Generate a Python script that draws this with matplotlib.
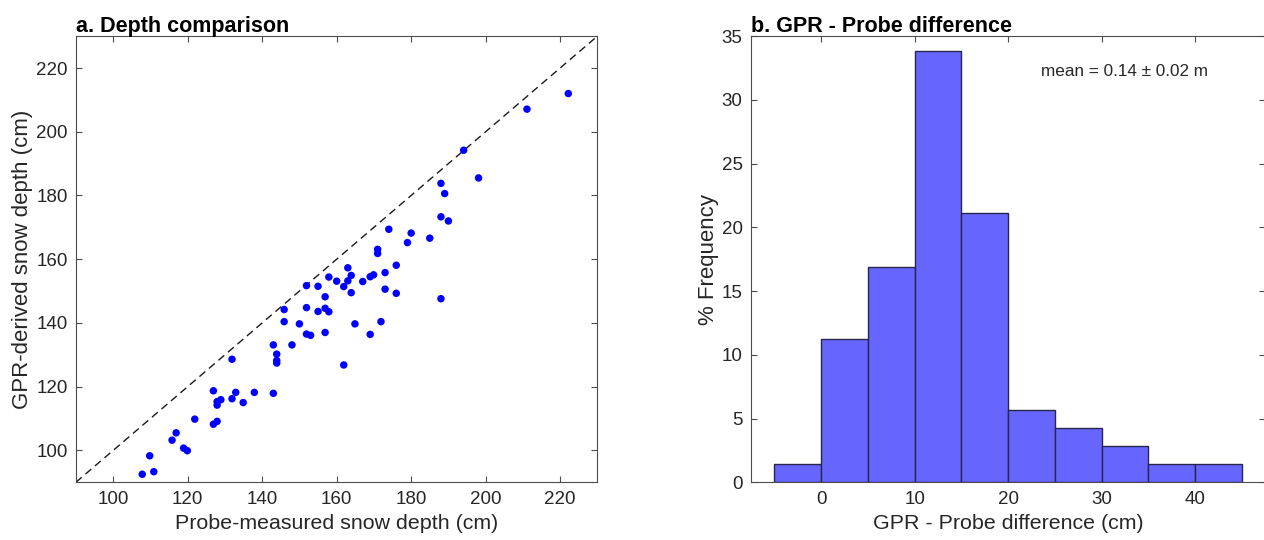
import matplotlib
matplotlib.use("Agg")
import matplotlib.pyplot as plt

plt.rcParams['font.family'] = ['Liberation Sans', 'DejaVu Sans']

# Paired snow depth observations (cm)
probe_depth = [107.8, 109.8, 110.9, 115.8, 116.9, 118.9, 119.9, 121.9, 126.9, 126.9,
               127.9, 127.9, 127.9, 128.9, 131.9, 131.9, 132.9, 134.9, 137.9, 143.0,
               143.0, 143.9, 143.9, 143.9, 145.9, 145.9, 148.0, 150.0, 151.9, 151.9,
               151.9, 153.0, 155.0, 155.0, 156.9, 156.9, 157.9, 156.9, 157.9, 160.0,
               161.9, 161.9, 163.0, 163.0, 163.9, 163.9, 164.9, 167.0, 169.0, 169.9,
               169.0, 171.0, 171.0, 171.9, 173.0, 173.0, 174.0, 176.0, 176.0, 179.0,
               180.0, 185.0, 188.0, 189.0, 188.0, 190.0, 188.0, 194.1, 198.1, 211.1,
               222.2]
gpr_depth = [92.5, 98.3, 93.3, 103.2, 105.5, 100.7, 99.9, 109.8, 118.7, 108.2,
             109.1, 114.2, 115.3, 115.9, 116.2, 128.6, 118.2, 115.0, 118.2, 117.9,
             133.1, 130.2, 128.2, 127.4, 144.2, 140.4, 133.1, 139.7, 151.7, 144.8,
             136.5, 136.1, 151.5, 143.6, 148.2, 144.6, 143.5, 137.0, 154.4, 153.1,
             151.4, 126.8, 157.3, 153.2, 154.9, 149.5, 139.7, 153.0, 154.5, 155.1,
             136.4, 163.1, 161.8, 140.4, 155.8, 150.6, 169.4, 158.1, 149.3, 165.2,
             168.2, 166.6, 183.8, 180.6, 173.3, 172.0, 147.6, 194.2, 185.5, 207.1,
             212.0]

# Histogram of the depth difference
bin_edges = [-5, 0, 5, 10, 15, 20, 25, 30, 35, 40, 45]
freq_pct = [1.41, 11.27, 16.90, 33.80, 21.13, 5.63, 4.23, 2.82, 1.41, 1.41]

depth_ticks = [100, 120, 140, 160, 180, 200, 220]
diff_xticks = [0, 10, 20, 30, 40]
diff_yticks = [0, 5, 10, 15, 20, 25, 30, 35]

axis_color = '#262626'
spine_color = '#4d4d4d'

fig = plt.figure(figsize=(12.64, 5.4), dpi=100)
ax1 = fig.add_axes([0.0601, 0.107, 0.4125, 0.826])
ax2 = fig.add_axes([0.5941, 0.107, 0.4070, 0.826])


def style_axes(ax):
    for sp in ax.spines.values():
        sp.set_color(spine_color)
        sp.set_linewidth(0.8)
    ax.tick_params(direction='in', length=4.5, width=0.8, colors=spine_color,
                   labelcolor=axis_color, labelsize=13.5, top=True, right=True,
                   pad=6)


# a. scatter of GPR vs probe depth
ax1.axline((0, 0), slope=1, color='#1a1a1a', linestyle=(0, (5.5, 3.5)), linewidth=1.0,
           zorder=1)
ax1.scatter(probe_depth, gpr_depth, s=29, color='#0000ff', edgecolors='none', zorder=3)
ax1.set_xlim(90, 230)
ax1.set_ylim(90, 230)
ax1.set_xticks(depth_ticks)
ax1.set_yticks(depth_ticks)
style_axes(ax1)
ax1.set_xlabel('Probe-measured snow depth (cm)', fontsize=15.4, color=axis_color,
               labelpad=5)
ax1.set_ylabel('GPR-derived snow depth (cm)', fontsize=16, color=axis_color, labelpad=2)
ax1.set_title('a. Depth comparison', loc='left', fontsize=15.5, fontweight='bold',
              color='black', pad=3)

# b. histogram of GPR - probe difference
widths = [bin_edges[i + 1] - bin_edges[i] for i in range(len(freq_pct))]
ax2.bar(bin_edges[:-1], freq_pct, width=widths, align='edge', color='#6666ff',
        edgecolor='#26264d', linewidth=1.0, zorder=2)
ax2.set_xlim(-7.5, 47.5)
ax2.set_ylim(0, 35)
ax2.set_xticks(diff_xticks)
ax2.set_yticks(diff_yticks)
style_axes(ax2)
ax2.set_xlabel('GPR - Probe difference (cm)', fontsize=15.4, color=axis_color, labelpad=5)
ax2.set_ylabel('% Frequency', fontsize=16, color=axis_color, labelpad=2)
ax2.set_title('b. GPR - Probe difference', loc='left', fontsize=15.5, fontweight='bold',
              color='black', pad=3)
ax2.text(23.5, 32.2, 'mean = 0.14 \u00b1 0.02 m', fontsize=12.3, color=axis_color,
         ha='left', va='center')

fig.savefig('out.png', dpi=100)
